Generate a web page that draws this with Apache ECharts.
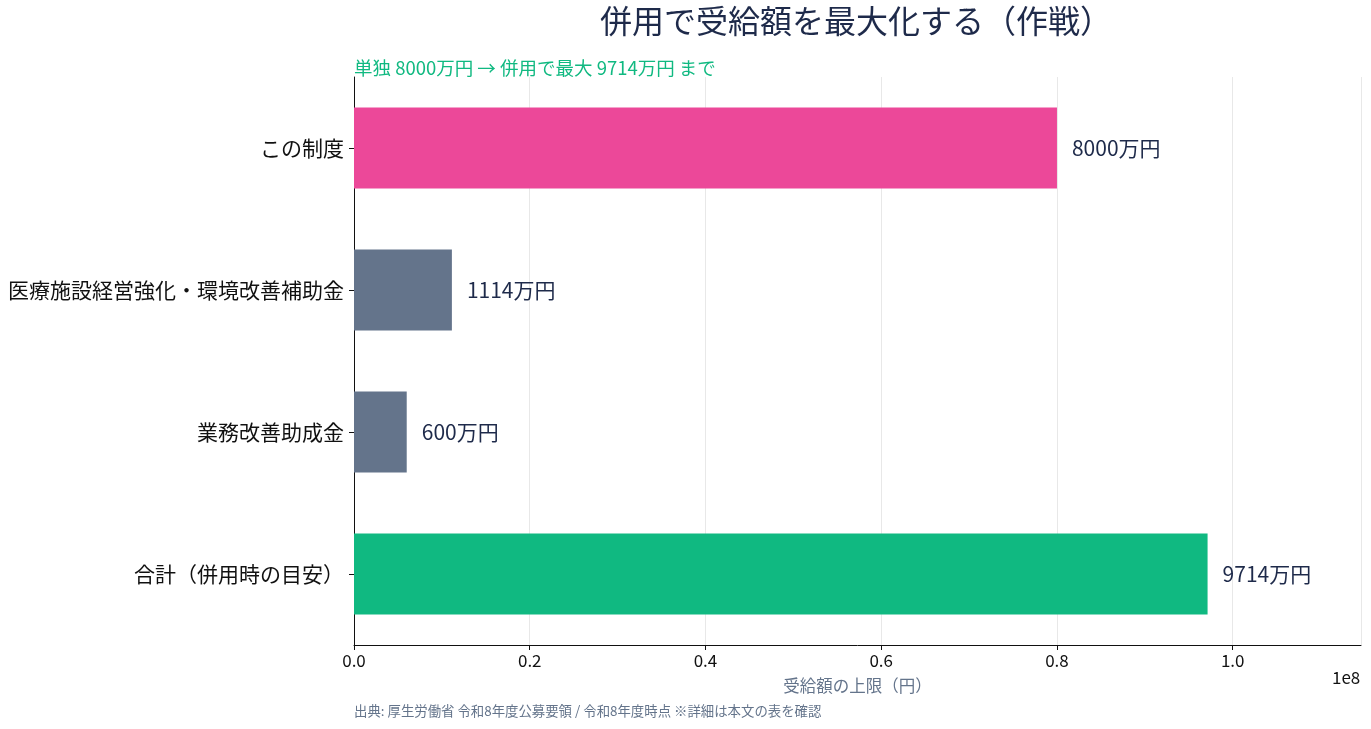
<!DOCTYPE html>
<html>
<head>
<meta charset="utf-8">
<script src="https://cdn.jsdelivr.net/npm/echarts@6/dist/echarts.min.js"></script>
<style>
  html, body { margin: 0; padding: 0; background: #ffffff; }
  #main { width: 1371px; height: 729px; }
</style>
</head>
<body>
<div id="main"></div>
<script>
var categories = ['この制度', '医療施設経営強化・環境改善補助金', '業務改善助成金', '合計（併用時の目安）'];
var amounts = [80000000, 11140000, 6000000, 97140000];
var amountLabels = ['8000万円', '1114万円', '600万円', '9714万円'];
var barColors = ['#ec4899', '#64748b', '#64748b', '#10b981'];
var xTicks = [0, 20000000, 40000000, 60000000, 80000000, 100000000];

var font = '"Noto Sans CJK JP", "Noto Sans", sans-serif';
var myChart = echarts.init(document.getElementById('main'));

var option = {
    backgroundColor: '#ffffff',
    textStyle: { fontFamily: font },
    title: {
        text: '併用で受給額を最大化する（作戦）',
        left: 851,
        top: 0,
        textAlign: 'center',
        textStyle: { fontSize: 32, fontWeight: 'normal', color: '#1e2a4a', fontFamily: font }
    },
    graphic: [
        {
            type: 'text', left: 354, top: 59,
            style: { text: '単独 8000万円 → 併用で最大 9714万円 まで', fill: '#10b981', fontSize: 18.5, fontFamily: font }
        },
        {
            type: 'text', left: 1332, top: 669,
            style: { text: '1e8', fill: '#111111', fontSize: 17, fontFamily: font }
        },
        {
            type: 'text', left: 354, top: 704,
            style: { text: '出典: 厚生労働省 令和8年度公募要領 / 令和8年度時点 ※詳細は本文の表を確認', fill: '#64748b', fontSize: 13.4, fontFamily: font }
        }
    ],
    grid: { left: 354, right: 10, top: 77, height: 568 },
    xAxis: {
        type: 'value',
        min: 0,
        max: 114600000,
        interval: 20000000,
        name: '受給額の上限（円）',
        nameLocation: 'middle',
        nameGap: 32,
        nameTextStyle: { color: '#64748b', fontSize: 16.5, fontFamily: font },
        axisLine: { show: true, lineStyle: { color: '#111111', width: 1 } },
        axisTick: { show: true, length: 5, lineStyle: { color: '#111111' } },
        axisLabel: {
            color: '#111111', fontSize: 17, margin: 7,
            showMaxLabel: false,
            formatter: function (v) {
                return xTicks.indexOf(v) >= 0 ? (v / 100000000).toFixed(1) : '';
            }
        },
        splitLine: { show: true, lineStyle: { color: '#e8e8e8', width: 1 } }
    },
    yAxis: {
        type: 'category',
        inverse: true,
        data: categories,
        axisLine: { show: true, lineStyle: { color: '#111111', width: 1 } },
        axisTick: { show: true, alignWithLabel: true, length: 5, lineStyle: { color: '#111111' } },
        axisLabel: { color: '#111111', fontSize: 21, margin: 10, fontFamily: font }
    },
    series: [{
        type: 'bar',
        data: amounts.map(function (v, i) {
            return { value: v, itemStyle: { color: barColors[i] } };
        }),
        barWidth: 81,
        label: {
            show: true,
            position: 'right',
            distance: 15,
            color: '#1e2a4a',
            fontSize: 21,
            fontFamily: font,
            formatter: function (p) { return amountLabels[p.dataIndex]; }
        }
    }]
};
myChart.setOption(option);
</script>
</body>
</html>
